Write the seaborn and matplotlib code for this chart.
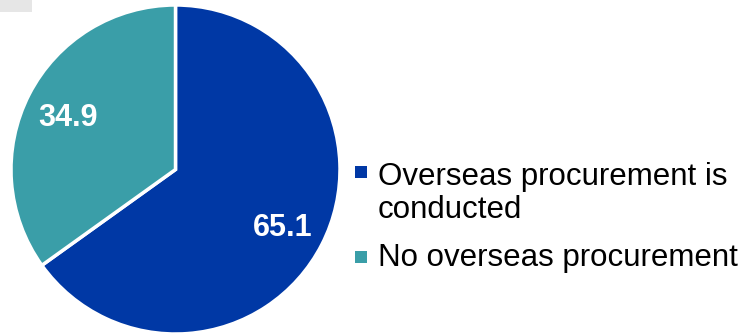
import matplotlib
matplotlib.use("Agg")
import matplotlib.pyplot as plt
from matplotlib.patches import Rectangle
import seaborn as sns

# share of companies (%)
categories = ["Overseas procurement is\nconducted", "No overseas procurement"]
values = [65.1, 34.9]
colors = ["#0038A5", "#3A9EA8"]

sns.set_theme(style="white")
plt.rcParams["font.family"] = ["Liberation Sans", "DejaVu Sans"]

W, H = 748, 335
fig = plt.figure(figsize=(W / 100, H / 100), dpi=100)
ax = fig.add_axes([11 / W, 1 / H, 329 / W, 329 / H])

wedges, texts, autotexts = ax.pie(
    values,
    colors=colors,
    startangle=90,
    counterclock=False,
    autopct="%.1f",
    pctdistance=0.735,
    wedgeprops=dict(edgecolor="white", linewidth=2.5),
    textprops=dict(color="white", fontsize=22, fontweight="bold",
                   va="center_baseline"),
)
ax.set_xlim(-1.0, 1.0)
ax.set_ylim(-1.0, 1.0)
ax.set_aspect("equal")
ax.axis("off")

# small grey tab in the corner
fig.add_artist(Rectangle((0, 1 - 12 / H), 32 / W, 12 / H, transform=fig.transFigure,
                         facecolor="#e6e6e6", edgecolor="none"))

# legend drawn by hand: square aligned with the first text line
marker_y = [172, 257]
text_base = [218, 266]  # baseline of the last line of each label
for cat, col, my, tb in zip(categories, colors, marker_y, text_base):
    fig.add_artist(Rectangle((355 / W, 1 - (my + 6) / H), 12 / W, 12 / H,
                             transform=fig.transFigure, facecolor=col, edgecolor="none"))
    fig.text(378 / W, 1 - tb / H, cat, fontsize=22.5, color="black",
             va="baseline", ha="left", linespacing=1.15)

fig.savefig("out.png", dpi=100)
